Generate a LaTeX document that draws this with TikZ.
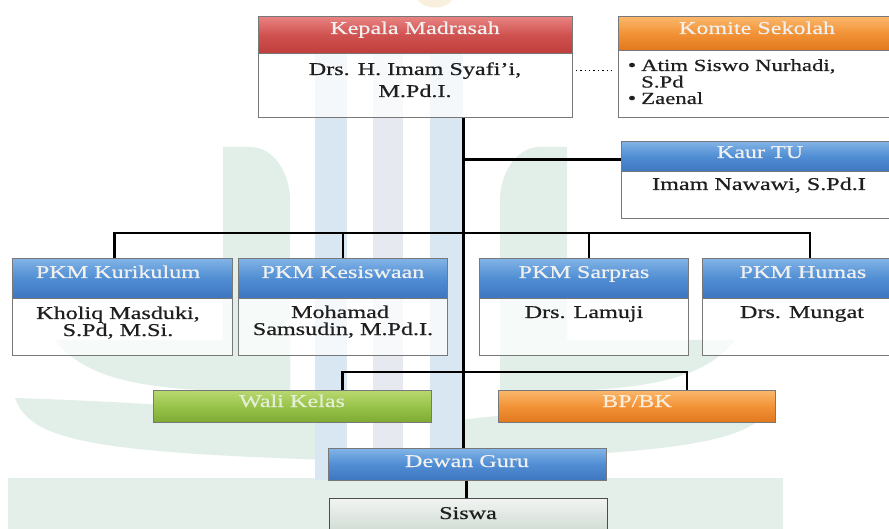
\documentclass[tikz,border=0pt]{standalone}
\usepackage{fontspec}
\setmainfont{Liberation Serif}[FakeStretch=1.34, FakeBold=0.6]
\usetikzlibrary{calc}
\definecolor{boxline}{RGB}{120,120,120}
\definecolor{redT}{RGB}{232,132,130}
\definecolor{redM}{RGB}{208,82,80}
\definecolor{redB}{RGB}{192,62,60}
\definecolor{blueT}{RGB}{130,180,230}
\definecolor{blueM}{RGB}{80,141,211}
\definecolor{blueB}{RGB}{62,118,192}
\definecolor{orT}{RGB}{250,184,108}
\definecolor{orM}{RGB}{242,146,54}
\definecolor{orB}{RGB}{226,120,30}
\definecolor{grT}{RGB}{184,216,112}
\definecolor{grM}{RGB}{152,195,74}
\definecolor{grB}{RGB}{126,170,52}
\definecolor{siT}{RGB}{242,244,242}
\definecolor{siB}{RGB}{196,211,201}
\definecolor{hdrtext}{RGB}{240,240,240}
\definecolor{wmblue}{RGB}{216,231,242}
\definecolor{wmgray}{RGB}{230,234,240}
\definecolor{wmgreen}{RGB}{226,239,232}
\definecolor{wmgreenB}{RGB}{228,239,233}
\definecolor{wmyellow}{RGB}{248,240,220}
\begin{document}
\begin{tikzpicture}[x=1pt,y=-1pt,
  hdr/.style={draw=boxline, line width=0.8pt, inner sep=0pt, anchor=north west},
  redhdr/.style={hdr, top color=redT, bottom color=redB, middle color=redM},
  bluehdr/.style={hdr, top color=blueT, bottom color=blueB, middle color=blueM},
  orhdr/.style={hdr, top color=orT, bottom color=orB, middle color=orM},
  grhdr/.style={hdr, top color=grT, bottom color=grB, middle color=grM},
  sihdr/.style={hdr, draw=black!70, top color=siT, bottom color=siB},
  bodybox/.style={draw=boxline, line width=0.8pt, fill=white, fill opacity=0.72, inner sep=0pt, anchor=north west},
  txt/.style={anchor=base, inner sep=0pt, font=\fontsize{18}{21}\selectfont, text=black!88},
  htxt/.style={txt, text=hdrtext},
  ltxt/.style={txt, anchor=base west, font=\fontsize{17}{20}\selectfont},
  conn/.style={draw=black, line width=2.4pt},
  dotline/.style={draw=black, line width=1.4pt, dash pattern=on 1.4pt off 3pt}
]
\useasboundingbox (0,0) rectangle (889,529);
\clip (0,0) rectangle (889,529);
\fill[white] (0,0) rectangle (889,529);

% faded watermark
\fill[wmyellow] (418,0) .. controls (424,10) and (446,10) .. (452,0) -- cycle;
\fill[wmgreenB] (8,478) rectangle (783,529);
\fill[wmgreen] (223,400) -- (223,147) -- (250,147) .. controls (275,147) and (290,175) .. (290,200) -- (290,400) -- cycle;
\fill[wmgreen] (567,400) -- (567,147) -- (540,147) .. controls (515,147) and (500,175) .. (500,200) -- (500,400) -- cycle;
\fill[wmgreen] (55,340) .. controls (90,385) and (160,392) .. (290,392) -- (290,340) -- cycle;
\fill[wmgreen] (735,340) .. controls (700,385) and (630,392) .. (500,392) -- (500,340) -- cycle;
\fill[wmgreen] (15,398) .. controls (30,440) and (90,452) .. (330,460) -- (330,420) .. controls (200,405) and (80,400) .. (15,398) -- cycle;
\fill[wmgreen] (775,398) .. controls (760,440) and (700,452) .. (460,460) -- (460,420) .. controls (590,405) and (710,400) .. (775,398) -- cycle;
\fill[wmblue] (315,20) rectangle (347,480);
\fill[wmgray] (373,20) rectangle (403,480);
\fill[wmblue] (430,20) rectangle (463,480);

% Kepala Madrasah
\node[redhdr, minimum width=314, minimum height=37] (kepH) at (258,16) {};
\node[bodybox, minimum width=314, minimum height=64] (kepB) at (258,53) {};
\node[htxt] (kepHt) at (415,34) {Kepala Madrasah};
\node[txt] (kepB1) at (415,75) {Drs. H. Imam Syafi'i,};
\node[txt] (kepB2) at (415,97) {M.Pd.I.};

% Komite Sekolah
\node[orhdr, minimum width=278, minimum height=34] (komH) at (618,16) {};
\node[bodybox, minimum width=278, minimum height=67] (komB) at (618,50) {};
\node[htxt] (komHt) at (757,34) {Komite Sekolah};
\node[txt] (komD1) at (632,71) {•};
\node[ltxt] (komB1) at (641,71) {Atim Siswo Nurhadi,};
\node[ltxt] (komB2) at (641,87.5) {S.Pd};
\node[txt] (komD2) at (632,104) {•};
\node[ltxt] (komB3) at (641,104) {Zaenal};

% Kaur TU
\node[bluehdr, minimum width=278, minimum height=30] (kaurH) at (621,141) {};
\node[bodybox, minimum width=278, minimum height=47] (kaurB) at (621,171) {};
\node[htxt] (kaurHt) at (760,158) {Kaur TU};
\node[txt] (kaurB1) at (759,190) {Imam Nawawi, S.Pd.I};

% PKM boxes
\node[bluehdr, minimum width=220, minimum height=40] (kurH) at (12,258) {};
\node[bodybox, minimum width=220, minimum height=57] (kurB) at (12,298) {};
\node[htxt] (kurHt) at (118,278) {PKM Kurikulum};
\node[txt] (kurB1) at (118,319) {Kholiq Masduki,};
\node[txt] (kurB2) at (118,336) {S.Pd, M.Si.};

\node[bluehdr, minimum width=209, minimum height=40] (kesH) at (238,258) {};
\node[bodybox, minimum width=209, minimum height=57] (kesB) at (238,298) {};
\node[htxt] (kesHt) at (343,278) {PKM Kesiswaan};
\node[txt] (kesB1) at (340,318) {Mohamad};
\node[txt] (kesB2) at (343,335) {Samsudin, M.Pd.I.};

\node[bluehdr, minimum width=209, minimum height=40] (sarH) at (479,258) {};
\node[bodybox, minimum width=209, minimum height=57] (sarB) at (479,298) {};
\node[htxt] (sarHt) at (584,278) {PKM Sarpras};
\node[txt] (sarB1) at (584,318) {Drs. Lamuji};

\node[bluehdr, minimum width=203, minimum height=40] (humH) at (702,258) {};
\node[bodybox, minimum width=203, minimum height=57] (humB) at (702,298) {};
\node[htxt] (humHt) at (803,278) {PKM Humas};
\node[txt] (humB1) at (802,318) {Drs. Mungat};

% Wali Kelas, BP/BK
\node[grhdr, minimum width=278, minimum height=32] (wali) at (153,390) {};
\node[htxt, text={rgb,255:red,228;green,238;blue,212}] (walit) at (292,407) {Wali Kelas};
\node[orhdr, minimum width=277, minimum height=32] (bpbk) at (498,390) {};
\node[htxt, text={rgb,255:red,252;green,238;blue,220}] (bpbkt) at (637,407) {BP/BK};

% Dewan Guru, Siswa
\node[bluehdr, minimum width=278, minimum height=32] (dewan) at (328,448) {};
\node[htxt] (dewant) at (467,467) {Dewan Guru};
\node[sihdr, minimum width=278, minimum height=45] (siswa) at (329,498) {};
\node[txt] (siswat) at (468,519) {Siswa};

% connectors
\coordinate (trunkTop) at ([xshift=48]kepB.south);
\draw[conn, line width=3pt] (trunkTop) -- (trunkTop |- dewan.north);
\draw[conn] ([yshift=-3]kaurH.west) -- ([yshift=-3]kaurH.west -| trunkTop);
\coordinate (pkmBar) at ([yshift=25]kesH.north -| trunkTop);
\draw[conn] ([xshift=-8]kurH.north) |- (pkmBar) -| ([xshift=6]humH.north);
\draw[conn] (kesH.north) -- (kesH.north |- pkmBar);
\draw[conn] ([xshift=5]sarH.north) -- ([xshift=5]sarH.north |- pkmBar);
\coordinate (lowBar) at ([yshift=18]wali.north -| trunkTop);
\draw[conn] ([xshift=50]wali.north) |- (lowBar) -| ([xshift=50]bpbk.north);
\draw[conn] ([xshift=-1]dewan.south) -- ([xshift=-1]dewan.south |- siswa.north);
\draw[dotline, shorten <=3pt, shorten >=3pt] ([yshift=15]kepB.east) -- ([yshift=15]kepB.east -| komB.west);
\end{tikzpicture}
\end{document}
